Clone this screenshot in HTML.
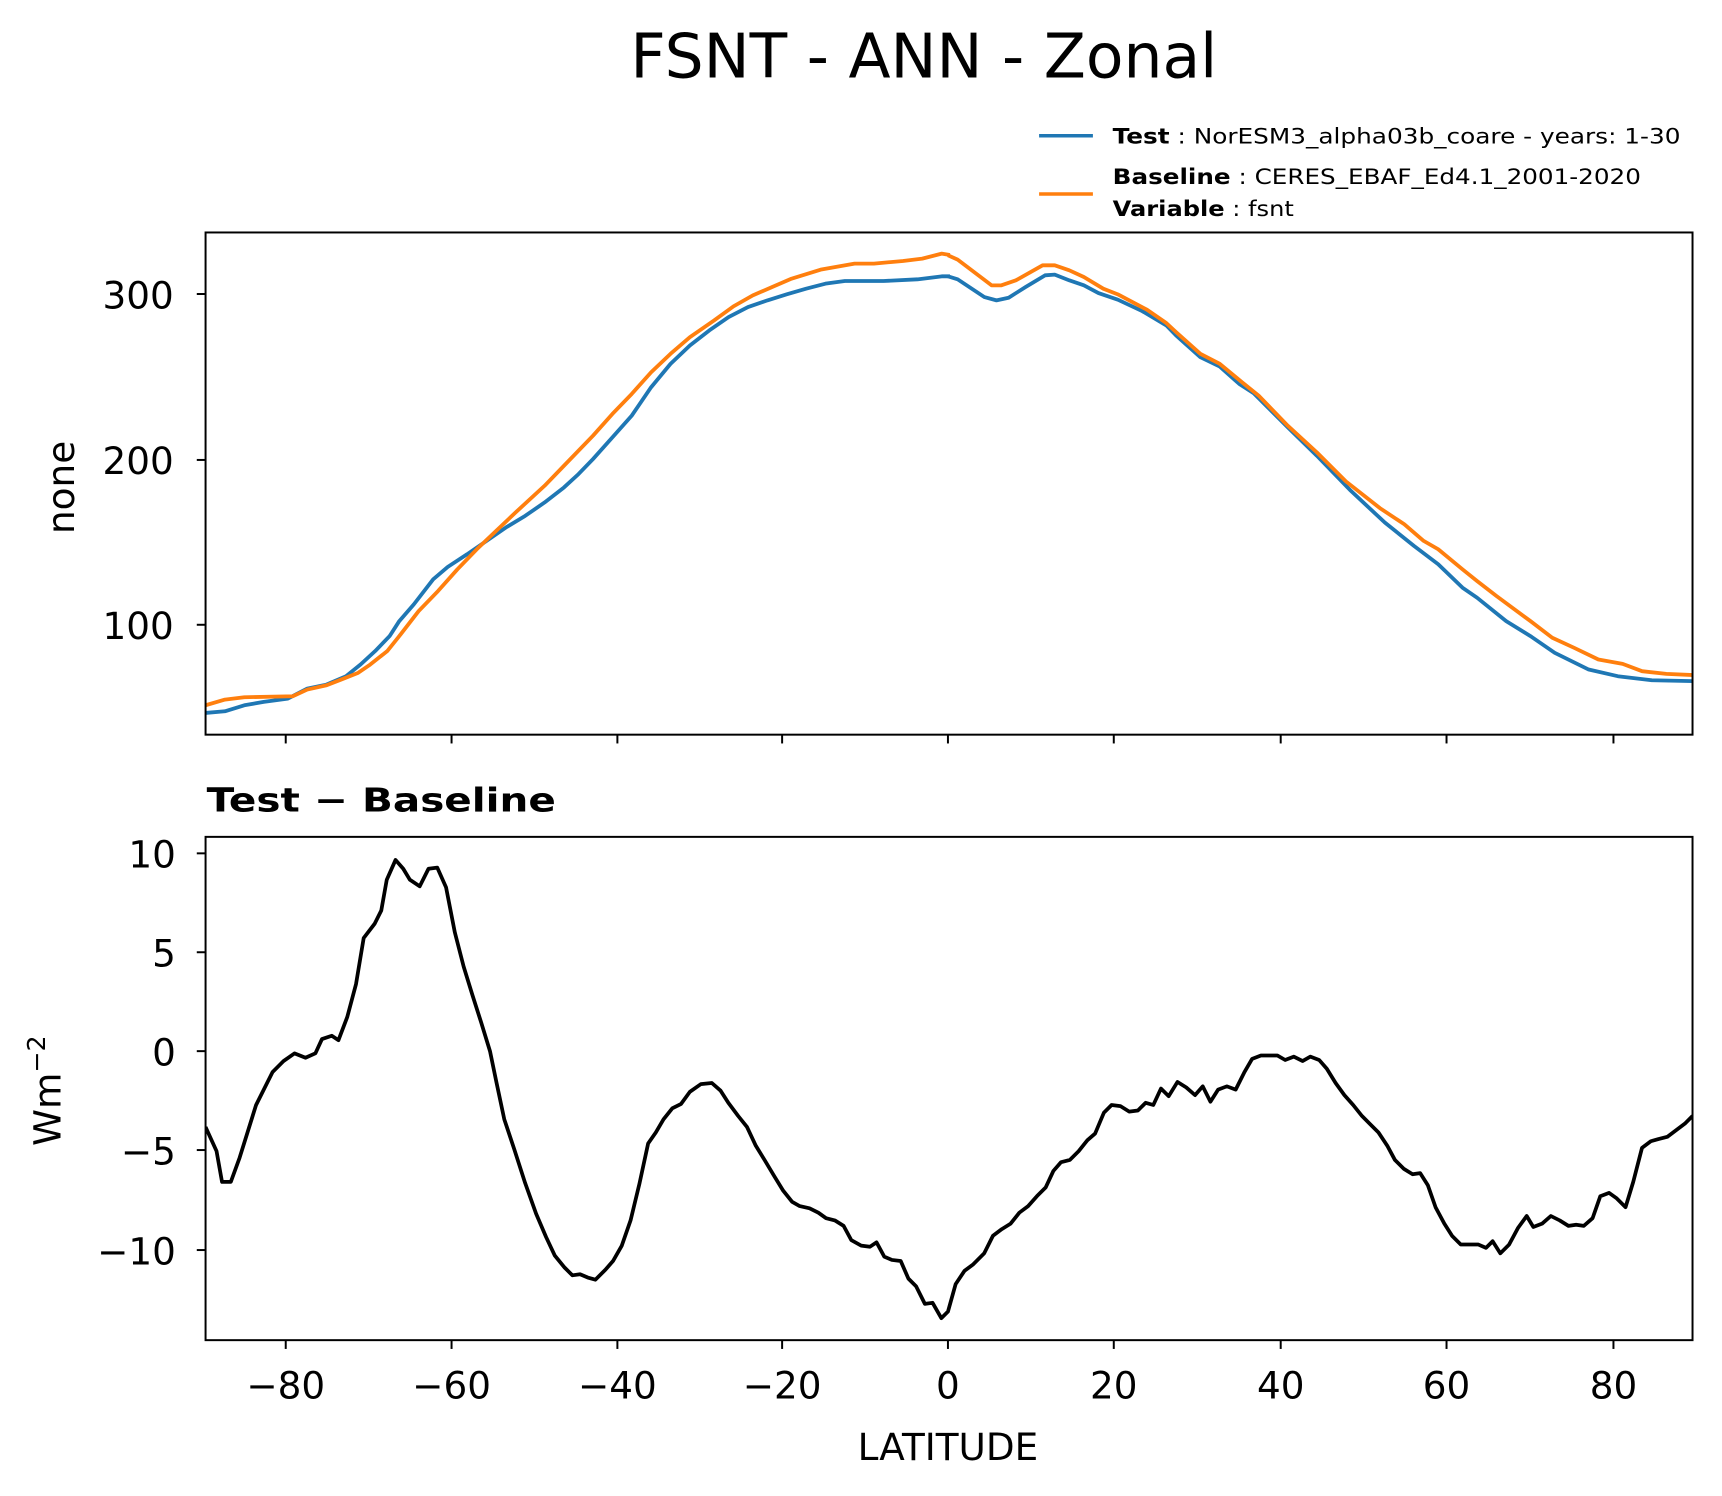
<!DOCTYPE html>
<html><head><meta charset="utf-8"><style>
html,body{margin:0;padding:0;background:#fff;}
svg{display:block;}
text{font-family:"DejaVu Sans","Liberation Sans",sans-serif;fill:#000;}
</style></head><body>
<svg width="1722" height="1496" viewBox="0 0 1722 1496" xmlns="http://www.w3.org/2000/svg">
<rect width="1722" height="1496" fill="#fff"/>
<g transform="matrix(1.0982 0 0 1.0989 0.2 0.6)">
<text x="841" y="70" font-size="56" text-anchor="middle">FSNT - ANN - Zonal</text>
<line x1="946" y1="123" x2="995" y2="123" stroke="#1f77b4" stroke-width="3.2"/>
<line x1="946" y1="176" x2="995" y2="176" stroke="#ff7f0e" stroke-width="3.2"/>
<text x="1013" y="130" font-size="19" textLength="517" lengthAdjust="spacingAndGlyphs"><tspan font-weight="bold">Test</tspan> : NorESM3_alpha03b_coare - years: 1-30</text>
<text x="1013" y="167" font-size="19" textLength="481" lengthAdjust="spacingAndGlyphs"><tspan font-weight="bold">Baseline</tspan> : CERES_EBAF_Ed4.1_2001-2020</text>
<text x="1013" y="196" font-size="19" textLength="165" lengthAdjust="spacingAndGlyphs"><tspan font-weight="bold">Variable</tspan> : fsnt</text>

<defs><clipPath id="c1"><rect x="187" y="211" width="1354" height="457"/></clipPath>
<clipPath id="c2"><rect x="187" y="761" width="1354" height="458"/></clipPath></defs>
<g clip-path="url(#c1)" fill="none" stroke-linejoin="round">
<g transform="translate(187,212) scale(0.441,0.304)">
<polyline vector-effect="non-scaling-stroke" stroke="#1f77b4" stroke-width="3.8" points="0,1435 40,1430 80,1412 120,1402 170,1392 210,1362 250,1350 290,1325 320,1290 350,1250 380,1205 400,1160 430,1110 470,1035 500,998 540,960 580,920 620,880 660,845 700,805 740,760 770,720 800,675 840,610 880,545 920,460 960,390 1000,335 1040,290 1080,250 1120,220 1160,200 1200,182 1240,165 1280,150 1320,142 1400,142 1470,137 1520,128 1537,128"/>
<polyline vector-effect="non-scaling-stroke" stroke="#ff7f0e" stroke-width="3.8" points="0,1412 40,1395 80,1388 180,1385 210,1365 250,1352 280,1335 315,1315 340,1290 375,1250 400,1205 440,1130 480,1070 520,1005 560,945 600,890 640,835 700,755 740,695 800,605 840,540 880,480 920,415 960,360 1000,310 1050,260 1090,218 1130,185 1170,160 1210,135 1270,108 1340,90 1380,90 1440,82 1480,75 1520,60 1537,64"/>
</g>
<g transform="translate(863,212) scale(0.442,0.304)">
<polyline vector-effect="non-scaling-stroke" stroke="#1f77b4" stroke-width="3.8" points="0,128 20,137 75,190 100,200 125,192 160,160 200,125 220,123 250,140 280,155 310,178 350,198 400,232 450,275 470,305 520,370 560,398 600,450 630,478 700,580 760,665 830,770 900,865 960,935 1010,990 1060,1060 1090,1090 1150,1160 1200,1205 1250,1255 1320,1305 1380,1325 1450,1337 1540,1340"/>
<polyline vector-effect="non-scaling-stroke" stroke="#ff7f0e" stroke-width="3.8" points="0,65 20,78 90,155 110,155 140,140 195,95 220,95 250,110 280,130 320,165 350,182 410,228 450,268 470,295 520,360 560,390 610,450 640,485 700,575 760,655 820,742 890,822 940,870 980,920 1010,945 1060,1005 1090,1040 1130,1085 1200,1160 1245,1210 1290,1240 1340,1275 1390,1288 1430,1310 1480,1318 1540,1322"/>
</g>
</g>
<rect x="187" y="211" width="1354" height="457" fill="none" stroke="#000" stroke-width="1.8"/>
<g stroke="#000" stroke-width="1.8">
<line x1="187" y1="267" x2="179" y2="267"/><line x1="187" y1="418" x2="179" y2="418"/><line x1="187" y1="568" x2="179" y2="568"/>
<line x1="260" y1="668" x2="260" y2="676"/><line x1="411" y1="668" x2="411" y2="676"/><line x1="562" y1="668" x2="562" y2="676"/><line x1="712" y1="668" x2="712" y2="676"/><line x1="863" y1="668" x2="863" y2="676"/><line x1="1014" y1="668" x2="1014" y2="676"/><line x1="1166" y1="668" x2="1166" y2="676"/><line x1="1317" y1="668" x2="1317" y2="676"/><line x1="1469" y1="668" x2="1469" y2="676"/>
</g>
<g font-size="34" text-anchor="end">
<text x="158" y="280">300</text><text x="158" y="431">200</text><text x="158" y="581">100</text>
</g>
<text transform="translate(67,443) rotate(-90)" font-size="34" text-anchor="middle">none</text>

<text x="188" y="738" font-size="30" font-weight="bold" textLength="318" lengthAdjust="spacingAndGlyphs">Test − Baseline</text>
<g clip-path="url(#c2)">
<polyline fill="none" stroke="#000" stroke-width="3.4" stroke-linejoin="round" points="187,1025 197,1047 202,1075 210,1075 218,1053 233,1005 248,975 258,965 268,958 278,962 287,958 293,945 302,942 308,946 316,925 324,895 331,853 341,840 347,828 352,800 360,782 367,790 373,800 382,806 390,790 398,789 406,807 414,848 422,879 430,905 438,930 446,956 452,985 459,1018 468,1045 478,1076 488,1104 497,1125 505,1142 514,1153 521,1160 528,1159 535,1162 542,1164 551,1155 558,1147 566,1133 574,1110 582,1077 590,1040 597,1030 604,1018 612,1008 620,1004 628,993 638,986 648,985 656,992 663,1003 672,1015 680,1025 688,1042 696,1055 705,1070 713,1083 721,1093 728,1097 737,1099 745,1103 752,1108 760,1110 768,1115 775,1128 784,1133 792,1134 798,1130 805,1143 812,1146 820,1147 827,1163 834,1170 842,1186 849,1185 857,1199 863,1193 870,1168 878,1156 886,1150 896,1140 904,1124 912,1118 920,1113 928,1103 936,1097 944,1088 952,1080 959,1065 966,1057 974,1055 982,1047 990,1037 997,1031 1005,1012 1012,1005 1020,1006 1028,1011 1036,1010 1043,1003 1050,1005 1057,990 1064,997 1072,984 1080,989 1088,996 1095,988 1102,1002 1109,991 1117,988 1125,991 1133,975 1140,963 1148,960 1156,960 1163,960 1170,964 1178,961 1186,965 1193,961 1201,964 1208,972 1216,985 1224,996 1232,1005 1240,1015 1247,1022 1255,1030 1263,1042 1270,1055 1278,1063 1286,1068 1293,1067 1300,1078 1307,1098 1315,1113 1322,1124 1330,1132 1338,1132 1346,1132 1353,1135 1359,1129 1366,1140 1374,1132 1382,1117 1390,1106 1396,1116 1404,1113 1412,1106 1420,1110 1428,1115 1435,1114 1442,1115 1450,1108 1457,1088 1465,1085 1472,1090 1480,1098 1487,1075 1495,1044 1503,1038 1510,1036 1518,1034 1526,1028 1534,1022 1541,1015"/>
</g>
<rect x="187" y="761" width="1354" height="458" fill="none" stroke="#000" stroke-width="1.8"/>
<g stroke="#000" stroke-width="1.8">
<line x1="187" y1="776" x2="179" y2="776"/><line x1="187" y1="866" x2="179" y2="866"/><line x1="187" y1="956" x2="179" y2="956"/><line x1="187" y1="1046" x2="179" y2="1046"/><line x1="187" y1="1137" x2="179" y2="1137"/>
<line x1="260" y1="1219" x2="260" y2="1227"/><line x1="411" y1="1219" x2="411" y2="1227"/><line x1="562" y1="1219" x2="562" y2="1227"/><line x1="712" y1="1219" x2="712" y2="1227"/><line x1="863" y1="1219" x2="863" y2="1227"/><line x1="1014" y1="1219" x2="1014" y2="1227"/><line x1="1166" y1="1219" x2="1166" y2="1227"/><line x1="1317" y1="1219" x2="1317" y2="1227"/><line x1="1469" y1="1219" x2="1469" y2="1227"/>
</g>
<g font-size="34" text-anchor="end">
<text x="160" y="789">10</text><text x="160" y="879">5</text><text x="160" y="969">0</text><text x="160" y="1059">−5</text><text x="160" y="1150">−10</text>
</g>
<text transform="translate(55,992) rotate(-90)" font-size="34" text-anchor="middle">Wm<tspan font-size="23" dy="-14">−2</tspan></text>
<g font-size="34" text-anchor="middle">
<text x="260" y="1272">−80</text><text x="411" y="1272">−60</text><text x="562" y="1272">−40</text><text x="712" y="1272">−20</text><text x="863" y="1272">0</text><text x="1014" y="1272">20</text><text x="1166" y="1272">40</text><text x="1317" y="1272">60</text><text x="1469" y="1272">80</text>
</g>
<text x="863" y="1328" font-size="34" text-anchor="middle">LATITUDE</text>
</g>
</svg>
</body></html>
